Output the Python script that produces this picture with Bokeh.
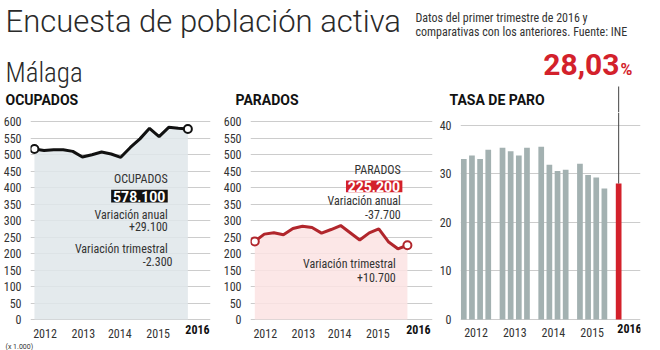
from bokeh.plotting import figure
from bokeh.layouts import column, row
from bokeh.models import Range1d, FixedTicker, ColumnDataSource
from bokeh.embed import file_html
from bokeh.resources import INLINE
from bokeh.core.properties import value

# ---------------- data ----------------
quarters = ["2012T1", "2012T2", "2012T3", "2012T4",
            "2013T1", "2013T2", "2013T3", "2013T4",
            "2014T1", "2014T2", "2014T3", "2014T4",
            "2015T1", "2015T2", "2015T3", "2015T4",
            "2016T1"]
ocupados = [517, 513, 515, 515, 510, 493, 500, 508, 502, 492, 522, 548,
            580, 555, 583, 580.4, 578.1]
parados = [237, 259, 263, 257, 276, 283, 279, 262, 273, 285, 263, 241,
           262.9, 275, 236, 214.5, 225.2]
tasa = [33.1, 33.8, 33.1, 35.0, 35.4, 34.7, 33.8, 35.4, 35.6, 31.9, 30.6,
        30.9, 32.1, 29.8, 29.3, 27.0, 28.03]
year_labels = ["2012", "2013", "2014", "2015"]
last_year = "2016"
y_ticks_abs = [0, 50, 100, 150, 200, 250, 300, 350, 400, 450, 500, 550, 600]
y_ticks_tasa = [0, 10, 20, 30, 40]

ocu_text = {"name": "OCUPADOS", "total": "578.100", "anual": "+29.100", "trim": "-2.300"}
par_text = {"name": "PARADOS", "total": "225.200", "anual": "-37.700", "trim": "+10.700"}
tasa_text = "28,03"

# ---------------- style ----------------
F = "Roboto"
FC = "Roboto Condensed, Roboto"
FL = "Roboto Light, Roboto"
FCL = "Roboto Condensed Light, Roboto Condensed, Roboto Light, Roboto"
RED = "#d3212b"
DARKRED = "#b1262c"
GRID = "#cccccc"
TXT = "#333333"

HEAD_H = 112
PANEL_H = 228          # page y 112 .. 340
FOOT_H = 10

qidx = list(range(len(quarters)))
# tasa x positions: 4 bars per year with a gap between years
tasa_x = [(i // 4) * 4.75 + (i % 4) for i in qidx]
tasa_color = [RED if q.startswith(last_year) else "#a3b1b1" for q in quarters]


def panel(width, left, right, xr, yr, yticks, xticks):
    p = figure(width=width, height=PANEL_H, x_range=xr, y_range=yr,
               output_backend="svg", toolbar_location=None, title=None,
               min_border_left=left, min_border_right=right,
               min_border_top=0, min_border_bottom=0)
    p.outline_line_color = None
    p.xgrid.grid_line_color = None
    p.ygrid.grid_line_color = GRID
    p.ygrid.ticker = FixedTicker(ticks=yticks)
    p.yaxis.ticker = FixedTicker(ticks=yticks)
    p.xaxis.ticker = FixedTicker(ticks=xticks)
    p.xaxis.major_label_overrides = {t: l for t, l in zip(xticks, year_labels)}
    p.xaxis.fixed_location = 0
    for ax in (p.xaxis[0], p.yaxis[0]):
        ax.axis_line_color = None
        ax.major_tick_line_color = None
        ax.minor_tick_line_color = None
        ax.major_label_text_font = FC
        ax.major_label_text_font_size = "12px"
        ax.major_label_text_color = TXT
        ax.major_label_standoff = 3
    return p


def line_panel(width, left, right, xr, yr, vals, fill, lcol, boxcol, lab, ann, x2016):
    p = panel(width, left, right, xr, yr, y_ticks_abs, [1.1, 5.1, 8.9, 12.9])
    src = ColumnDataSource(dict(x=qidx, y=vals))
    p.varea(x="x", y1=0, y2="y", source=src, fill_color=fill, fill_alpha=0.85)
    p.line(x="x", y="y", source=src, line_color=lcol, line_width=3)
    p.scatter(x=[qidx[0], qidx[-1]], y=[vals[0], vals[-1]], size=8,
              fill_color="white", line_color=lcol, line_width=2)
    p.text(x=[x2016], y=[-30], text=[last_year], text_align="center",
           text_baseline="middle", text_font=value(FC), text_font_style="bold",
           text_font_size="12px", text_color="#111111")
    (xr_, x_box0, x_box1, yname, ybox0, ybox1, ytot, ya1, ya2, yt1, yt2, xt2, xtrim) = ann
    p.text(x=[xr_], y=[yname], text=[lab["name"]], text_align="right",
           text_baseline="middle", text_font=value(FC), text_font_size="12px",
           text_color=TXT)
    p.quad(left=[x_box0], right=[x_box1], bottom=[ybox0], top=[ybox1],
           fill_color=boxcol, line_color=None)
    p.text(x=[x_box1 - 0.25], y=[ytot], text=[lab["total"]], text_align="right",
           text_baseline="middle", text_font=value(F), text_font_style="bold",
           text_font_size="14px", text_color="white")
    p.text(x=[xr_, xr_], y=[ya1, ya2], text=["Variación anual", lab["anual"]],
           text_align="right", text_baseline="middle", text_font=value(FC),
           text_font_size="12px", text_color=TXT)
    p.text(x=[xtrim, xt2], y=[yt1, yt2], text=["Variación trimestral", lab["trim"]],
           text_align="right", text_baseline="middle", text_font=value(FC),
           text_font_size="12px", text_color=TXT)
    return p


# panel 1: OCUPADOS  (0 at page y 319, 3.034 units / px)
p1 = line_panel(220, 25, 10, Range1d(-0.41, 18.36), Range1d(-63.7, 628),
                ocupados, "#dfe6ea", "#111111", "#111111", ocu_text,
                (13.9, 8.0, 13.9, 425, 355, 394, 374, 318, 283, 215, 177, 14.4, 13.9),
                17.0)

# panel 2: PARADOS
p2 = line_panel(215, 29, 3, Range1d(-0.45, 18.63), Range1d(-63.7, 628),
                parados, "#fbe3e3", DARKRED, RED, par_text,
                (15.3, 9.56, 15.47, 455, 386, 422, 404, 359, 318, 169, 128, 14.78, 14.78),
                17.15)

# panel 3: TASA DE PARO  (0 at page y 319, 4.85 px / unit)
p3 = panel(225, 25, 20, Range1d(-0.405, 21.68), Range1d(-4.33, 42.68), y_ticks_tasa,
           [1.5, 6.25, 11, 15.75])
src3 = ColumnDataSource(dict(x=tasa_x, top=tasa, color=tasa_color))
p3.vbar(x="x", top="top", bottom=0, width=0.7, source=src3, fill_color="color",
        line_color=None)
p3.text(x=[20.33], y=[-1.95], text=[last_year], text_align="center",
        text_baseline="middle", text_font=value(FC), text_font_style="bold",
        text_font_size="12px", text_color="#111111")
p3.segment(x0=[tasa_x[-1]], y0=[tasa[-1]], x1=[tasa_x[-1]], y1=[42.68],
           line_color="#444444", line_width=1)

# header
h = figure(width=660, height=HEAD_H, x_range=Range1d(0, 660), y_range=Range1d(HEAD_H, 0),
           output_backend="svg", toolbar_location=None, title=None,
           x_axis_location=None, y_axis_location=None, min_border=0)
h.outline_line_color = None
h.grid.grid_line_color = None
h.text(x=[5], y=[21], text=["Encuesta de población activa"], text_font=value(FL),
       text_font_size="31px", text_color="#2a2a2a", text_baseline="middle")
h.text(x=[415, 415], y=[17.8, 31.1],
       text=["Datos del primer trimestre de 2016 y",
             "comparativas con los anteriores. Fuente: INE"],
       text_font=value(FC), text_font_size="12px", text_color=TXT,
       text_baseline="middle")
h.text(x=[5], y=[72.5], text=["Málaga"], text_font=value(FCL), text_font_size="27px",
       text_color="#2a2a2a", text_baseline="middle")
h.text(x=[619], y=[64.2], text=[tasa_text], text_font=value(F), text_font_style="bold",
       text_font_size="30px", text_color=RED, text_align="right",
       text_baseline="middle")
h.text(x=[620], y=[69.2], text=["%"], text_font=value(F), text_font_style="bold",
       text_font_size="16px", text_color=RED, text_baseline="middle")
h.text(x=[5, 235, 449], y=[99.6, 99.6, 99.6], text=["OCUPADOS", "PARADOS", "TASA DE PARO"],
       text_font=value(F), text_font_style="bold", text_font_size="14px",
       text_color="#111111", text_baseline="middle")
line_x = 435 + 25 + (tasa_x[-1] + 0.405) * (180 / (21.68 + 0.405))
h.segment(x0=[line_x], y0=[86], x1=[line_x], y1=[HEAD_H], line_color="#444444",
          line_width=1)

# footer
f = figure(width=660, height=FOOT_H, x_range=Range1d(0, 660), y_range=Range1d(FOOT_H, 0),
           output_backend="svg", toolbar_location=None, title=None,
           x_axis_location=None, y_axis_location=None, min_border=0)
f.outline_line_color = None
f.grid.grid_line_color = None
f.text(x=[5], y=[4], text=["(x 1.000)"], text_font=value(F), text_font_size="7px",
       text_color=TXT, text_baseline="middle")

layout = column(h, row(p1, p2, p3, spacing=0), f, spacing=0)
open("out.html", "w").write(file_html(layout, INLINE))
